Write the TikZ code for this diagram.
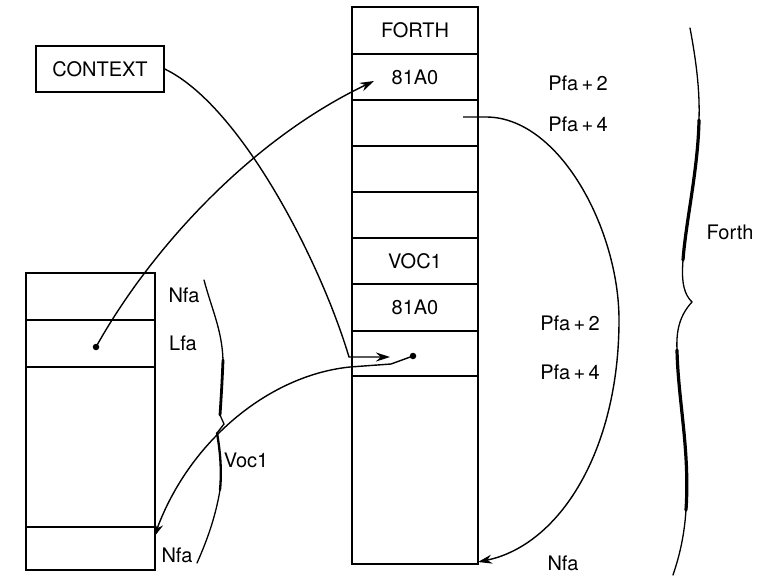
\documentclass[tikz,border=0pt]{standalone}
\usepackage{fontspec}
\setmainfont{TeX Gyre Heros}
\usetikzlibrary{arrows.meta}
\begin{document}
\begin{tikzpicture}[x=1pt,y=-1pt,
  every node/.style={font=\fontsize{20}{23}\selectfont},
  cell/.style={draw, line width=1.4pt, rectangle, inner sep=0pt, outer sep=0pt, minimum width=126pt},
  lcell/.style={draw, line width=1.4pt, rectangle, inner sep=0pt, outer sep=0pt, minimum width=129pt},
  lab/.style={inner sep=0pt},
  conn/.style={line width=1.4pt},
  tip/.style={-{Stealth[length=14pt,width=9pt]}},
  dotn/.style={circle, fill, inner sep=0pt, minimum size=6.5pt},
  thin brace/.style={line width=1.3pt, line cap=round},
  thick brace/.style={line width=3.2pt, line cap=round}]
\useasboundingbox (0,0) rectangle (767,582);

% CONTEXT box
\node[draw, line width=1.4pt, minimum width=128pt, minimum height=46pt, inner sep=0pt] (ctx) at (100,69) {CONTEXT};

% FORTH column
\node[cell, minimum height=47pt] (f1) at (415,30.5) {FORTH};
\node[cell, minimum height=46pt] (f2) at (415,77) {81A0};
\node[cell, minimum height=46pt] (f3) at (415,123) {};
\node[cell, minimum height=46pt] (f4) at (415,169) {};
\node[cell, minimum height=46pt] (f5) at (415,215) {};
\node[cell, minimum height=46pt] (f6) at (415,261) {VOC1};
\node[cell, minimum height=47pt] (f7) at (415,307.5) {81A0};
\node[cell, minimum height=45pt] (f8) at (415,353.5) {};
\node[cell, minimum height=188pt] (f9) at (415,470) {};

% left column
\node[lcell, minimum height=47pt] (l1) at (90.5,296.5) {};
\node[lcell, minimum height=47pt] (l2) at (90.5,343.5) {};
\node[lcell, minimum height=160pt] (l3) at (90.5,447) {};
\node[lcell, minimum height=43pt] (l4) at (90.5,548.5) {};

% labels
\node[lab] (pa2) at (578,83) {Pfa\,+\,2};
\node[lab] (pa4) at (578,124) {Pfa\,+\,4};
\node[lab] (pb2) at (570,323) {Pfa\,+\,2};
\node[lab] (pb4) at (570,372) {Pfa\,+\,4};
\node[lab] (nfr) at (563,563) {Nfa};
\node[lab] (forth) at (730,232) {Forth};
\node[lab] (nf1) at (184,295) {Nfa};
\node[lab] (lfa) at (183,343) {Lfa};
\node[lab] (voc) at (246,460) {Voc1};
\node[lab] (nf2) at (177,555) {Nfa};

% dots and endpoints
\node[dotn] (d1) at (96,347) {};
\node[dotn] (d2) at (413,356) {};
\coordinate (k1) at (349,357);
\coordinate (k1e) at (390,357);
\coordinate (k2) at (374,81);
\coordinate (k3) at (463,117);
\coordinate (k4) at (478,562);
\coordinate (k5) at (154,537);

% connectors
\draw[conn,tip] (ctx.east) .. controls (240,105) and (320,260) .. (k1) -- (k1e);
\draw[conn,tip] (d1.center) .. controls (150,250) and (250,140) .. (k2);
\draw[conn,tip] (k3) -- (487,117) .. controls (560,118) and (619,230) .. (619,320)
  .. controls (619,450) and (560,545) .. (k4);
\draw[conn,tip] (d2.center) -- (391,364) -- (350,367) .. controls (270,375) and (190,440) .. (k5);

% right brace
\draw[thin brace] (690,28) .. controls (696,60) and (700,90) .. (699,120);
\draw[thick brace] (699,120) .. controls (698,170) and (686,220) .. (683,260);
\draw[thin brace] (683,260) .. controls (681,285) and (685,295) .. (692,302)
  .. controls (680,315) and (676,330) .. (677,350);
\draw[thick brace] (677,350) .. controls (678,400) and (690,450) .. (686,510);
\draw[thin brace] (686,510) .. controls (684,540) and (678,560) .. (673,575);

% left brace
\draw[thin brace] (204,280) .. controls (212,310) and (222,330) .. (223,360);
\draw[line width=2.8pt, line cap=round] (223,360) .. controls (222,385) and (221,400) .. (220,415);
\draw[thin brace] (220,415) -- (224,424) -- (217,433);
\draw[line width=2.3pt, line cap=round] (217,433) .. controls (220,450) and (222,470) .. (220,490);
\draw[thin brace] (220,490) .. controls (215,520) and (205,545) .. (197,563);
\end{tikzpicture}
\end{document}
